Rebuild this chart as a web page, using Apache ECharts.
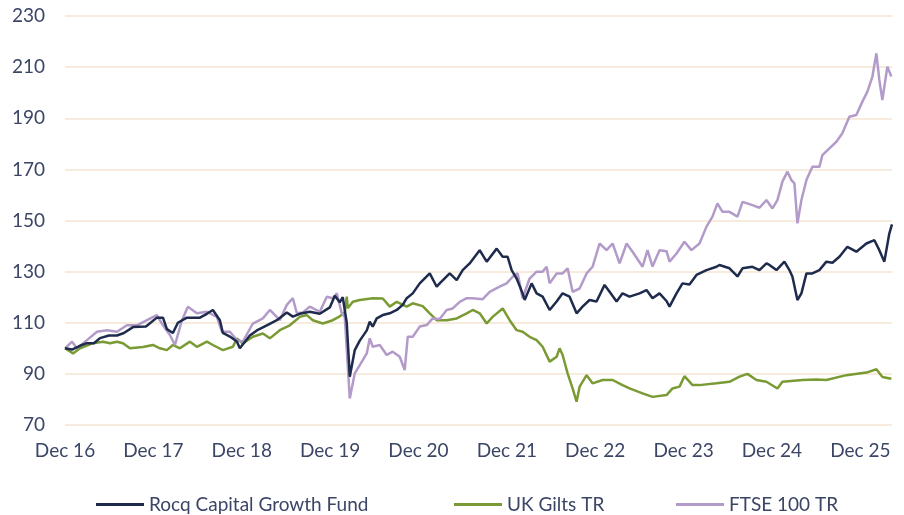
<!DOCTYPE html>
<html>
<head>
<meta charset="utf-8">
<script src="https://cdn.jsdelivr.net/npm/echarts@6/dist/echarts.min.js"></script>
<style>html,body{margin:0;padding:0;background:#fff}#c{width:904px;height:515px}</style>
</head>
<body>
<div id="c"></div>
<script>
// x values are months since Dec 2016 (0 = Dec 16, 108 = Dec 25)
const tickLabels = ["Dec 16","Dec 17","Dec 18","Dec 19","Dec 20","Dec 21","Dec 22","Dec 23","Dec 24","Dec 25"];
const seriesNames = ["Rocq Capital Growth Fund","UK Gilts TR","FTSE 100 TR"];

const fundMonths = [0,0.27,0.95,2.04,2.98,3.93,4.75,5.97,7.06,8.0,9.23,10.99,12.48,13.3,13.84,14.65,15.33,16.55,18.32,19.27,20.08,21.03,21.44,22.39,23.34,23.74,25.1,26.05,27.41,28.77,30.12,30.94,31.89,33.24,34.6,35.96,36.64,37.31,37.72,38.26,38.67,39.35,40.03,40.98,41.38,41.79,42.33,43.15,44.1,45.05,45.86,46.4,47.22,48.17,49.53,50.47,50.88,52.24,53.19,54.0,54.95,56.31,57.26,58.62,59.43,60.11,60.65,61.33,62.14,62.42,63.37,64.04,64.86,65.81,66.76,67.57,68.52,69.47,70.28,71.23,72.18,73.27,73.95,74.9,75.71,76.66,78.02,78.97,79.78,80.73,81.68,82.09,83.04,83.85,84.8,85.75,87.11,88.47,88.87,90.23,91.32,92.0,93.35,94.3,95.25,95.66,96.61,97.69,98.37,98.78,99.46,100.0,100.68,101.49,102.44,103.39,104.21,105.16,106.24,107.46,108.82,109.91,110.58,111.26,111.94,112.3];
const fundValues = [100,100,99.5,101,102,102,104,105,105,106,108.3,108.5,112,112,107.5,106,110,112,112,113.5,115,111,106,104.6,102.7,100,105,107,109,111,114,112.4,113.5,114.3,113.5,116,120.6,118,120,110,88.9,99.3,103,107,110.4,108.5,111.7,113,113.7,115,117,119.6,121.5,125.4,129.3,124.1,125.4,129.3,126.7,130.6,133.2,138.4,133.9,139,135.8,135.8,130.6,127.3,121.5,118.9,125.4,121.5,120.2,115,118.3,121.5,120.2,113.7,116.3,118.9,118.3,124.8,122.1,118.3,121.5,120.2,121.5,122.8,119.6,121.5,118.5,116.3,121.5,125.4,125,128.7,130.6,131.9,132.6,131.3,128.1,131.3,131.9,130.6,133.2,132.6,130.6,133.9,130.6,128,118.9,121.5,129.3,129.3,130.6,133.9,133.5,135.8,139.7,137.8,141,142.3,138.4,133.9,145,148.5];

const giltsMonths = [0,0.27,1.09,2.04,3.8,5.16,6.11,7.06,7.87,8.82,10.58,11.94,12.89,13.84,14.65,15.6,16.96,17.91,19.27,20.08,21.44,22.8,23.34,24.15,25.51,26.87,27.82,29.17,30.53,31.89,32.84,33.65,35.01,36.36,37.31,37.99,38.26,38.4,39.08,40.03,41.79,43.15,44.1,45.05,46.4,47.22,48.57,49.53,50.47,51.83,53.19,54.55,55.36,56.31,57.26,58.07,59.43,60.38,61.33,62.14,63.09,64.04,64.86,65.81,66.76,67.16,67.57,68.25,68.93,69.47,69.88,70.83,71.64,73.0,74.36,75.71,76.66,78.43,79.78,81.68,82.5,83.45,84.12,85.21,86.16,88.47,90.23,91.59,92.67,93.89,95.25,96.74,97.42,100.14,102.03,103.39,106.11,108.82,110.18,111.0,112.21];
const giltsValues = [100,99.3,98,100,102,102.6,102,102.6,102,100,100.5,101.3,100,99.3,101.3,100,102.6,100.6,102.6,101.3,99.3,100.6,103.9,101.9,104.5,105.8,103.9,107.1,109,112.3,113,111,109.7,111,112.5,114,120.2,115.7,118.2,118.9,119.6,119.5,116.3,118.2,116.3,117.6,116.5,113.7,111,111,111.7,113.7,115,113.7,109.7,112.3,115.6,111,107.1,106.5,104.5,103.2,100.6,94.8,96.7,100,97.4,90.2,84.3,79.1,85,89.5,86.3,87.6,87.6,85.6,84.3,82.4,81,81.7,84.3,85,89.1,85.6,85.6,86.3,86.9,88.9,90,87.6,86.9,84.3,86.9,87.6,87.8,87.6,89.5,90.5,91.8,88.8,88.1];

const ftseMonths = [0,0.27,0.95,1.63,2.98,4.34,5.7,7.06,8.41,9.77,11.13,12.48,13.3,14.25,14.93,15.88,16.69,17.91,19.27,20.62,21.3,22.39,23.34,24.15,25.51,26.87,27.82,29.17,30.12,30.94,31.48,32.29,33.24,34.6,35.55,36.36,36.91,37.58,37.99,38.67,39.35,40.03,40.98,41.38,41.79,42.74,43.69,44.5,45.45,46.13,46.54,47.22,48.17,49.12,49.93,50.88,51.83,52.65,53.6,54.55,55.36,56.72,57.67,59.02,59.97,60.79,61.47,62.14,63.09,64.04,64.86,65.4,65.81,66.76,67.57,68.25,68.93,69.88,70.83,71.64,72.59,73.54,74.36,75.31,76.26,77.07,78.43,79.1,79.78,80.73,81.68,82.09,83.04,84.12,85.07,86.16,87.11,87.92,88.6,89.28,90.23,91.32,92.0,93.35,94.3,95.25,96.07,96.74,97.42,98.1,98.64,99.05,99.46,100.0,100.68,101.49,102.44,102.85,103.8,104.75,105.56,106.51,107.46,108.28,108.96,109.64,110.18,110.58,110.99,111.67,112.21];
const ftseValues = [100,100.6,102.6,100,103.2,106.5,107.1,106.5,109,109,111,113,109,105.2,101.3,111,116.3,113.7,114.3,112.3,106.5,106.5,103.2,102.6,109.7,111.7,115,111,117,119.6,113.7,114,116.3,114.3,120.2,119.6,121.5,113.7,112.3,80.4,90.2,93.4,98,103.9,100.6,101.3,97.4,98.7,96.7,91.5,104.5,104.5,108.5,109.1,111.7,111.5,115,115.6,118.2,119.6,119.6,119.2,122.1,124.1,125.4,128,129.3,119.6,127.3,130,130,131.9,125.4,129.3,129.3,131.3,122.1,123.4,129.3,131.9,141,138.4,141,133.2,141,137.8,131.9,138.4,132,138.4,138,133.9,137.1,141.7,138.4,141,147.6,151.5,156.7,153.4,153.4,151.5,157.3,156,155,158,154.7,158,165.2,169.1,165.8,164.5,148.9,158,165.8,171,171,175.6,178.2,180.8,184.1,190.6,191.3,196.5,200.4,206.3,215.4,205,197.1,210.2,206.3];

const zip = (xs, ys) => xs.map((x, i) => [x, ys[i]]);

const textColor = '#3b4566';
const font = 'Lato';

const chart = echarts.init(document.getElementById('c'), null, {renderer: 'canvas'});
chart.setOption({
  animation: false,
  backgroundColor: '#ffffff',
  textStyle: {fontFamily: font, color: textColor},
  grid: {left: 65, right: 12, top: 16, bottom: 90, containLabel: false},
  xAxis: {
    type: 'value', min: 0, max: 112.3, interval: 12,
    axisLine: {show: false}, axisTick: {show: false}, splitLine: {show: false},
    axisLabel: {
      margin: 16, fontSize: 19, color: textColor, fontFamily: font,
      showMaxLabel: false,
      formatter: v => (v % 12 === 0 ? (tickLabels[v / 12] || '') : '')
    }
  },
  yAxis: {
    type: 'value', min: 70, max: 230, interval: 20,
    axisLine: {show: false}, axisTick: {show: false},
    splitLine: {lineStyle: {color: '#f6ebdc', width: 2}},
    axisLabel: {margin: 20, fontSize: 19, color: textColor, fontFamily: font}
  },
  legend: [
    {data: [seriesNames[0]], left: 91, top: 490},
    {data: [seriesNames[1]], left: 449, top: 490},
    {data: [seriesNames[2]], left: 671, top: 490}
  ].map(l => Object.assign(l, {
    icon: 'rect', itemWidth: 48, itemHeight: 3, itemGap: 6,
    textStyle: {fontSize: 19, color: textColor, fontFamily: font}
  })),
  series: [
    {name: seriesNames[1], type: 'line', data: zip(giltsMonths, giltsValues), showSymbol: false, symbol: 'none',
     lineStyle: {color: '#7a9a34', width: 2.5}, itemStyle: {color: '#7a9a34'}, z: 2},
    {name: seriesNames[2], type: 'line', data: zip(ftseMonths, ftseValues), showSymbol: false, symbol: 'none',
     lineStyle: {color: '#b39bc9', width: 2.5}, itemStyle: {color: '#b39bc9'}, z: 3},
    {name: seriesNames[0], type: 'line', data: zip(fundMonths, fundValues), showSymbol: false, symbol: 'none',
     lineStyle: {color: '#1e2b4d', width: 2.5}, itemStyle: {color: '#1e2b4d'}, z: 4}
  ]
});
</script>
</body>
</html>
